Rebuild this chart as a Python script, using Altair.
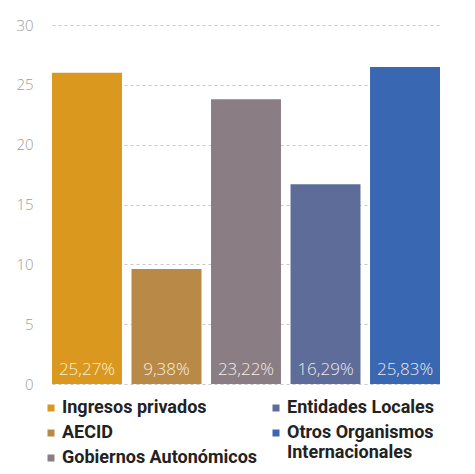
import altair as alt
import pandas as pd

categories = ["Ingresos privados", "AECID", "Gobiernos Autonómicos",
              "Entidades Locales", "Otros Organismos Internacionales"]
values = [26.0, 9.6, 23.8, 16.7, 26.5]
labels = ["25,27%", "9,38%", "23,22%", "16,29%", "25,83%"]
colors = ["#DA981F", "#B98A47", "#8A7E84", "#5E6C9A", "#3A67B1"]
y_ticks = [0, 5, 10, 15, 20, 25, 30]

df = pd.DataFrame({"cat": categories, "value": values, "label": labels})

LEG_FONT = "Roboto"

x_enc = alt.X("cat:N", sort=categories,
              scale=alt.Scale(domain=categories, range=[14, 402],
                              paddingInner=0.12, paddingOuter=0),
              axis=None)
y_scale = alt.Scale(domain=[0, 30], nice=False)
y_axis = alt.Axis(values=y_ticks, grid=True, gridDash=[3, 3],
                  gridColor="#c9c9c9", gridWidth=1, domain=False,
                  ticks=False, labelPadding=5, labelFont="Open Sans",
                  labelFontSize=15, labelFontWeight=300,
                  labelColor="#9e9e9e", title=None)
y_enc = alt.Y("value:Q", scale=y_scale, axis=y_axis)

def legend(x, y, expr=None):
    kw = dict(orient="none", legendX=x, legendY=y, title=None,
              direction="vertical", padding=0, symbolType="square",
              symbolSize=49, symbolStrokeWidth=0, labelOffset=2,
              labelFont=LEG_FONT, labelFontSize=18, labelFontWeight="bold",
              labelColor="#222222", rowPadding=7, labelLimit=300)
    if expr:
        kw["labelExpr"] = expr
    return alt.Legend(**kw)

base = alt.Chart(df)

bars1 = base.transform_filter(
    alt.FieldOneOfPredicate(field="cat", oneOf=categories[:3])
).mark_bar().encode(
    x=x_enc, y=y_enc,
    color=alt.Color("cat:N",
                    scale=alt.Scale(domain=categories[:3], range=colors[:3]),
                    legend=legend(4, 374)),
)

bars2 = base.transform_filter(
    alt.FieldOneOfPredicate(field="cat", oneOf=categories[3:])
).mark_bar().encode(
    x=x_enc, y=y_enc,
    color=alt.Color("cat:N",
                    scale=alt.Scale(domain=categories[3:], range=colors[3:]),
                    legend=legend(229, 374,
                                  "datum.label == 'Otros Organismos Internacionales' ? ['Otros Organismos', 'Internacionales'] : datum.label")),
)

text = base.mark_text(baseline="alphabetic", dy=-9, font="Open Sans",
                      fontWeight=300, fontSize=17, color="#fffaf0",
                      opacity=0.9).encode(
    x=x_enc, y=alt.Y(datum=0, scale=y_scale, axis=y_axis), text="label:N")

chart = alt.layer(bars1, bars2, text).resolve_scale(color="independent").properties(
    width=429, height=359,
    autosize=alt.AutoSizeParams(type="none"),
    padding={"left": 30, "top": 17, "right": 0, "bottom": 82},
    background="white",
).configure_view(stroke=None)

chart.save("out.html", embed_options={"renderer": "svg", "actions": False})
